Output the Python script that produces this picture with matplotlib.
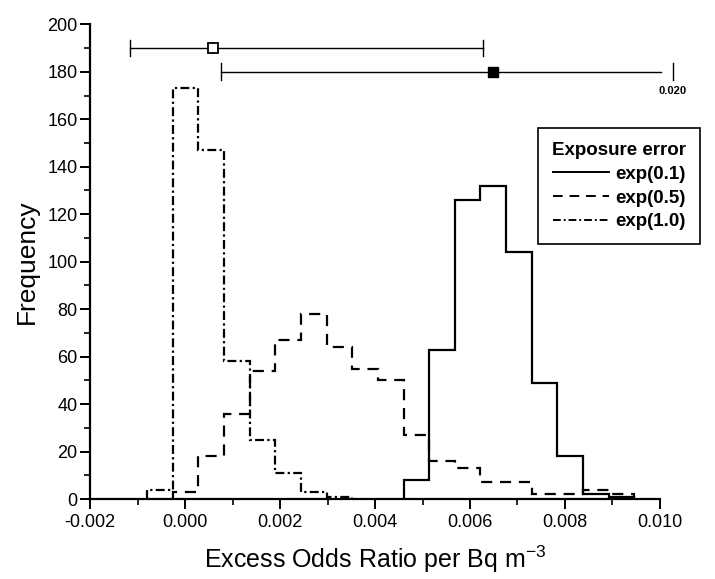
import numpy as np
import matplotlib
matplotlib.use("Agg")
import matplotlib.pyplot as plt
from matplotlib.ticker import MultipleLocator, FormatStrFormatter

plt.rcParams['font.family'] = ['Liberation Sans', 'DejaVu Sans']
plt.rcParams['mathtext.default'] = 'regular'

# shared bin edges of the three histograms
bin_edges = [-0.00080, -0.00026, 0.00028, 0.00082, 0.00136, 0.00190, 0.00244,
             0.00298, 0.00352, 0.00406, 0.00460, 0.00514, 0.00568, 0.00622,
             0.00676, 0.00730, 0.00784, 0.00838, 0.00892, 0.00946]

# counts per bin, each series starts at a given bin
freq_01 = [8, 63, 126, 132, 104, 49, 18, 2, 1]          # exp(0.1), from bin 10
freq_05 = [3, 18, 36, 54, 67, 78, 64, 55, 50, 27, 16, 13, 7, 7, 2, 2, 4, 2]  # exp(0.5), from bin 1
freq_10 = [4, 173, 147, 58, 25, 11, 3, 1]                # exp(1.0), from bin 0
start_01, start_05, start_10 = 10, 1, 0

# interval estimates shown at the top
ci_y = [190, 180]
ci_mid = [0.00059, 0.00648]
ci_low = [-0.00116, 0.00076]
ci_high = [0.00627, 0.020]
ci_high_label = "0.020"

fig = plt.figure(figsize=(7.15, 5.79), dpi=100)
ax = fig.add_axes([0.126, 0.138, 0.797, 0.820])

lw = 1.6
def edges_for(vals, start):
    return bin_edges[start:start + len(vals) + 1]

ax.stairs(freq_01, edges_for(freq_01, start_01), color='black', lw=lw,
          linestyle='-', label='exp(0.1)')
ax.stairs(freq_05, edges_for(freq_05, start_05), color='black', lw=lw,
          linestyle=(0, (5, 3.5)), label='exp(0.5)')
ax.stairs(freq_10, edges_for(freq_10, start_10), color='black', lw=lw,
          linestyle=(0, (4, 1.5, 1, 1.5)), label='exp(1.0)')

# interval bars (the upper limit 0.020 is drawn after an axis break)
x_break_line = 0.01002
x_break_cap = 0.01027
cap_h = 3.5
# upper bar, open square
ax.plot([ci_low[0], ci_high[0]], [ci_y[0]] * 2, color='black', lw=1.0, clip_on=False)
for xc in (ci_low[0], ci_high[0]):
    ax.plot([xc, xc], [ci_y[0] - cap_h, ci_y[0] + cap_h], color='black', lw=1.0, clip_on=False)
ax.plot(ci_mid[0], ci_y[0], marker='s', ms=7, mfc='white', mec='black', mew=1.3,
        clip_on=False, zorder=5)
# lower bar, filled square
ax.plot([ci_low[1], x_break_line], [ci_y[1]] * 2, color='black', lw=1.0, clip_on=False)
ax.plot([ci_low[1], ci_low[1]], [ci_y[1] - cap_h, ci_y[1] + cap_h], color='black', lw=1.0, clip_on=False)
ax.plot([x_break_cap, x_break_cap], [ci_y[1] - cap_h, ci_y[1] + cap_h], color='black', lw=1.0, clip_on=False)
ax.plot(ci_mid[1], ci_y[1], marker='s', ms=7, mfc='black', mec='black',
        clip_on=False, zorder=5)
ax.text(x_break_cap, ci_y[1] - 6, ci_high_label, ha='center', va='top',
        fontsize=8, fontweight='bold')

ax.set_xlim(-0.002, 0.010)
ax.set_ylim(0, 200)
ax.xaxis.set_major_locator(MultipleLocator(0.002))
ax.xaxis.set_minor_locator(MultipleLocator(0.001))
ax.xaxis.set_major_formatter(FormatStrFormatter('%.3f'))
ax.yaxis.set_major_locator(MultipleLocator(20))
ax.yaxis.set_minor_locator(MultipleLocator(10))
ax.tick_params(which='major', direction='out', length=7, width=1.4, labelsize=13)
ax.tick_params(which='minor', direction='out', length=4, width=1.2)
ax.tick_params(axis='x', pad=4)
ax.tick_params(axis='y', pad=2)
for s in ('top', 'right'):
    ax.spines[s].set_visible(False)
for s in ('left', 'bottom'):
    ax.spines[s].set_linewidth(1.6)

ax.set_xlabel('Excess Odds Ratio per Bq m$^{-3}$', fontsize=18, labelpad=9)
ax.set_ylabel('Frequency', fontsize=19, labelpad=6)

leg = ax.legend(loc='upper left', bbox_to_anchor=(0.786, 0.781), title='Exposure error',
                frameon=True, fancybox=False, edgecolor='black', framealpha=1,
                prop={'weight': 'bold', 'size': 13.5}, handlelength=3.0,
                handletextpad=0.3, labelspacing=0.35, borderpad=0.75,
                borderaxespad=0)
leg.get_title().set_fontweight('bold')
leg.get_title().set_fontsize(13.5)
leg.get_frame().set_linewidth(1.2)
for h in leg.get_lines():
    h.set_linewidth(1.4)

fig.savefig('out.png', dpi=100)
